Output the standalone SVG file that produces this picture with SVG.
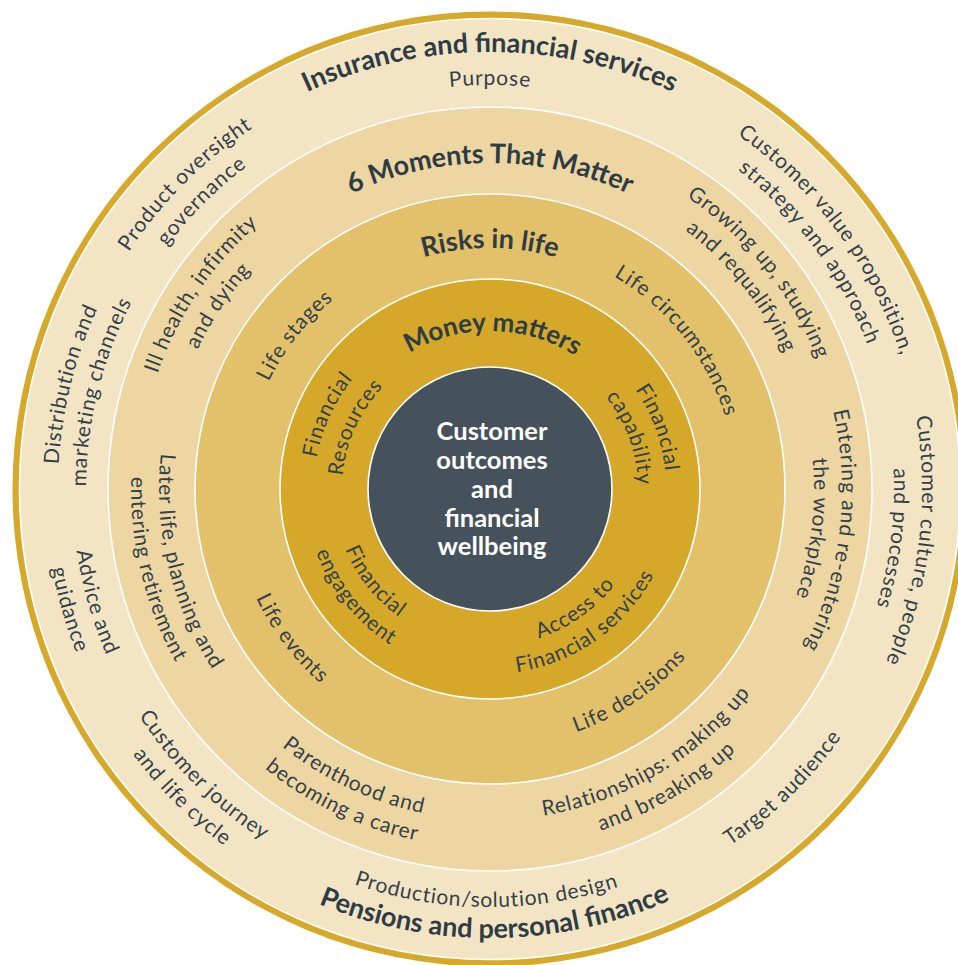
<svg xmlns="http://www.w3.org/2000/svg" xmlns:xlink="http://www.w3.org/1999/xlink" width="958" height="965" viewBox="0 0 958 965">
  <style>
    text { font-family: Lato, "Liberation Sans", sans-serif; fill: #33414b; }
    .r { font-size: 21px; font-weight: 400; letter-spacing: 0.8px; }
    .b { font-size: 27px; font-weight: 700; fill: #2e3c46; }
    .core { font-size: 25.5px; font-weight: 700; fill: #ffffff; text-anchor: middle; }
    .ring { stroke: #ffffff; stroke-width: 1.6; }
  </style>
  <defs>
    <!-- clockwise circles: start at bottom, 50% lands at the top (text faces outward) -->
    <path id="c437" d="M490,926 A437,437 0 0 1 490,52 A437,437 0 0 1 490,926"/>
    <path id="c432" d="M490,921 A432,432 0 0 1 490,57 A432,432 0 0 1 490,921"/>
    <path id="c404" d="M490,893 A404,404 0 0 1 490,85 A404,404 0 0 1 490,893"/>
    <path id="c352" d="M490,841 A352,352 0 0 1 490,137 A352,352 0 0 1 490,841"/>
    <path id="c326" d="M490,815 A326,326 0 0 1 490,163 A326,326 0 0 1 490,815"/>
    <path id="c324" d="M490,813 A324,324 0 0 1 490,165 A324,324 0 0 1 490,813"/>
    <path id="c246" d="M490,735 A246,246 0 0 1 490,243 A246,246 0 0 1 490,735"/>
    <path id="c241" d="M490,730 A241,241 0 0 1 490,248 A241,241 0 0 1 490,730"/>
    <path id="c176" d="M490,665 A176,176 0 0 1 490,313 A176,176 0 0 1 490,665"/>
    <path id="c158" d="M490,647 A158,158 0 0 1 490,331 A158,158 0 0 1 490,647"/>
    <path id="c148" d="M490,637 A148,148 0 0 1 490,341 A148,148 0 0 1 490,637"/>
    <!-- counter-clockwise circles: start at top, 50% lands at the bottom (text faces inward) -->
    <path id="w418" d="M490,71 A418,418 0 0 0 490,907 A418,418 0 0 0 490,71"/>
    <path id="w430" d="M490,59 A430,430 0 0 0 490,919 A430,430 0 0 0 490,59"/>
    <path id="w445" d="M490,44 A445,445 0 0 0 490,934 A445,445 0 0 0 490,44"/>
    <path id="w449" d="M490,40 A449,449 0 0 0 490,938 A449,449 0 0 0 490,40"/>
    <path id="w331" d="M490,158 A331,331 0 0 0 490,820 A331,331 0 0 0 490,158"/>
    <path id="w359" d="M490,130 A359,359 0 0 0 490,848 A359,359 0 0 0 490,130"/>
    <path id="w258" d="M490,231 A258,258 0 0 0 490,747 A258,258 0 0 0 490,231"/>
    <path id="w157" d="M490,332 A157,157 0 0 0 490,646 A157,157 0 0 0 490,332"/>
    <path id="w185" d="M490,304 A185,185 0 0 0 490,674 A185,185 0 0 0 490,304"/>
  </defs>

  <!-- concentric bands -->
  <g id="bands">
    <circle cx="490" cy="489" r="477.5" fill="#d6a92a"/>
    <circle class="ring" cx="490" cy="489" r="470.5" fill="#f3e5c4"/>
    <circle class="ring" cx="490" cy="489" r="382" fill="#eed6a2"/>
    <circle class="ring" cx="490" cy="489" r="295" fill="#e3c06a"/>
    <circle class="ring" cx="490" cy="489" r="210" fill="#d5a82a"/>
    <circle class="ring" cx="490" cy="489" r="122" fill="#46525b"/>
  </g>

  <!-- outer band: industry and business levers -->
  <g id="outer-band" text-anchor="middle">
    <text class="b"><textPath href="#c437" startOffset="50%">Insurance and financial services</textPath></text>
    <text class="r"><textPath href="#c404" startOffset="50%">Purpose</textPath></text>
    <g id="product-oversight" transform="rotate(-45 490 489)">
      <text class="r"><textPath href="#c432" startOffset="50%">Product oversight</textPath></text>
      <text class="r"><textPath href="#c404" startOffset="50%">governance</textPath></text>
    </g>
    <g id="value-proposition" transform="rotate(53.5 490 489)">
      <text class="r"><textPath href="#c432" startOffset="50%">Customer value proposition,</textPath></text>
      <text class="r"><textPath href="#c404" startOffset="50%">strategy and approach</textPath></text>
    </g>
    <g id="distribution" transform="rotate(-76 490 489)">
      <text class="r"><textPath href="#c432" startOffset="50%">Distribution and</textPath></text>
      <text class="r"><textPath href="#c404" startOffset="50%">marketing channels</textPath></text>
    </g>
    <g id="culture" transform="rotate(97 490 489)">
      <text class="r"><textPath href="#c432" startOffset="50%">Customer culture, people</textPath></text>
      <text class="r"><textPath href="#c404" startOffset="50%">and processes</textPath></text>
    </g>
    <g id="advice" transform="rotate(74 490 489)">
      <text class="r"><textPath href="#w418" startOffset="50%">Advice and</textPath></text>
      <text class="r"><textPath href="#w445" startOffset="50%">guidance</textPath></text>
    </g>
    <g id="journey" transform="rotate(45 490 489)">
      <text class="r"><textPath href="#w418" startOffset="50%">Customer journey</textPath></text>
      <text class="r"><textPath href="#w445" startOffset="50%">and life cycle</textPath></text>
    </g>
    <g id="target" transform="rotate(-44.4 490 489)">
      <text class="r"><textPath href="#w430" startOffset="50%">Target audience</textPath></text>
    </g>
    <g id="production" transform="rotate(0.5 490 489)">
      <text class="r"><textPath href="#w418" startOffset="50%">Production/solution design</textPath></text>
    </g>
    <g id="pensions" transform="rotate(-0.6 490 489)">
      <text class="b"><textPath href="#w449" startOffset="50%">Pensions and personal finance</textPath></text>
    </g>
  </g>

  <!-- moments band -->
  <g id="moments-band" text-anchor="middle">
    <text class="b"><textPath href="#c326" startOffset="50%">6 Moments That Matter</textPath></text>
    <g id="ill-health" transform="rotate(-56 490 489)">
      <text class="r"><textPath href="#c352" startOffset="50%">Ill health, infirmity</textPath></text>
      <text class="r"><textPath href="#c324" startOffset="50%">and dying</textPath></text>
    </g>
    <g id="growing-up" transform="rotate(51.2 490 489)">
      <text class="r"><textPath href="#c352" startOffset="50%">Growing up, studying</textPath></text>
      <text class="r"><textPath href="#c324" startOffset="50%">and requalifying</textPath></text>
    </g>
    <g id="workplace" transform="rotate(97 490 489)">
      <text class="r"><textPath href="#c352" startOffset="50%">Entering and re-entering</textPath></text>
      <text class="r"><textPath href="#c324" startOffset="50%">the workplace</textPath></text>
    </g>
    <g id="later-life" transform="rotate(76.5 490 489)">
      <text class="r"><textPath href="#w331" startOffset="50%">Later life, planning and</textPath></text>
      <text class="r"><textPath href="#w359" startOffset="50%">entering retirement</textPath></text>
    </g>
    <g id="parenthood" transform="rotate(25.3 490 489)">
      <text class="r"><textPath href="#w331" startOffset="50%">Parenthood and</textPath></text>
      <text class="r"><textPath href="#w359" startOffset="50%">becoming a carer</textPath></text>
    </g>
    <g id="relationships" transform="rotate(-30.6 490 489)">
      <text class="r"><textPath href="#w331" startOffset="50%">Relationships: making up</textPath></text>
      <text class="r"><textPath href="#w359" startOffset="50%">and breaking up</textPath></text>
    </g>
  </g>

  <!-- risks band -->
  <g id="risks-band" text-anchor="middle">
    <text class="b"><textPath href="#c241" startOffset="50%">Risks in life</textPath></text>
    <g id="life-stages" transform="rotate(-51.8 490 489)">
      <text class="r"><textPath href="#c246" startOffset="50%">Life stages</textPath></text>
    </g>
    <g id="life-circumstances" transform="rotate(51.6 490 489)">
      <text class="r"><textPath href="#c246" startOffset="50%">Life circumstances</textPath></text>
    </g>
    <g id="life-events" transform="rotate(53 490 489)">
      <text class="r"><textPath href="#w258" startOffset="50%">Life events</textPath></text>
    </g>
    <g id="life-decisions" transform="rotate(-34.5 490 489)">
      <text class="r"><textPath href="#w258" startOffset="50%">Life decisions</textPath></text>
    </g>
  </g>

  <!-- money band -->
  <g id="money-band" text-anchor="middle">
    <g id="money-title" transform="rotate(1 490 489)">
      <text class="b" style="font-size:26px"><textPath href="#c158" startOffset="50%">Money matters</textPath></text>
    </g>
    <g id="resources" transform="rotate(-65.5 490 489)">
      <text class="r"><textPath href="#c176" startOffset="50%">Financial</textPath></text>
      <text class="r"><textPath href="#c148" startOffset="50%">Resources</textPath></text>
    </g>
    <g id="capability" transform="rotate(70 490 489)">
      <text class="r"><textPath href="#c176" startOffset="50%">Financial</textPath></text>
      <text class="r"><textPath href="#c148" startOffset="50%">capability</textPath></text>
    </g>
    <g id="engagement" transform="rotate(51.3 490 489)">
      <text class="r"><textPath href="#w157" startOffset="50%">Financial</textPath></text>
      <text class="r"><textPath href="#w185" startOffset="50%">engagement</textPath></text>
    </g>
    <g id="access" transform="rotate(-35.4 490 489)">
      <text class="r"><textPath href="#w157" startOffset="50%">Access to</textPath></text>
      <text class="r"><textPath href="#w185" startOffset="50%">Financial services</textPath></text>
    </g>
  </g>

  <!-- core -->
  <g id="core">
    <text class="core" x="492" y="440">Customer</text>
    <text class="core" x="492" y="469">outcomes</text>
    <text class="core" x="492" y="498">and</text>
    <text class="core" x="492" y="527">financial</text>
    <text class="core" x="492" y="555">wellbeing</text>
  </g>
</svg>
